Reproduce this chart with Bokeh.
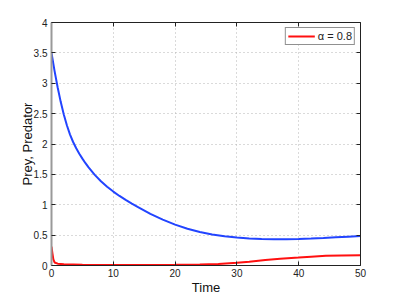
from bokeh.plotting import figure
from bokeh.models import LinearAxis, Range1d, FixedTicker, Legend, LegendItem
from bokeh.embed import file_html
from bokeh.resources import INLINE

# Data
t_prey = [0, 0.5, 1, 1.5, 2, 2.5, 3, 3.5, 4, 4.5, 5, 5.5, 6, 7, 8, 9, 10, 11, 12, 13,
          14, 16, 18, 20, 22, 24, 26, 28, 30, 32, 34, 36, 38, 40, 42, 44, 46, 48, 50]
prey = [3.5, 3.2, 2.93, 2.69, 2.481, 2.304, 2.155, 2.033, 1.93, 1.84, 1.759, 1.684,
        1.614, 1.492, 1.387, 1.297, 1.217, 1.145, 1.079, 1.018, 0.962, 0.85, 0.756,
        0.672, 0.604, 0.552, 0.512, 0.482, 0.46, 0.446, 0.437, 0.433, 0.434, 0.438,
        0.445, 0.454, 0.464, 0.474, 0.484]
t_pred = [0, 0.15, 0.3, 0.5, 1, 2, 5, 10, 15, 20, 24, 27, 30, 32, 34.6, 37, 40, 42,
          44.4, 47, 50]
pred = [0.31, 0.2, 0.1, 0.05, 0.03, 0.02, 0.012, 0.01, 0.01, 0.012, 0.015, 0.025,
        0.045, 0.06, 0.09, 0.11, 0.13, 0.145, 0.16, 0.165, 0.17]

x_ticks = [0, 10, 20, 30, 40, 50]
y_ticks = [0, 0.5, 1, 1.5, 2, 2.5, 3, 3.5, 4]
y_tick_labels = ["0", "0.5", "1", "1.5", "2", "2.5", "3", "3.5", "4"]
legend_label = "α = 0.8"

FONT = "Liberation Sans"

p = figure(frame_width=309, frame_height=243, output_backend="svg",
           toolbar_location=None, x_range=Range1d(0, 50), y_range=Range1d(0, 4),
           min_border_left=51, min_border_right=30, min_border_top=22,
           min_border_bottom=26)
p.outline_line_color = None
p.background_fill_color = "white"

# grid
for g in (p.xgrid, p.ygrid):
    g.grid_line_color = "#b4b4b4"
    g.grid_line_dash = "1 3"
    g.grid_line_width = 1
p.xgrid.ticker = FixedTicker(ticks=x_ticks)
p.ygrid.ticker = FixedTicker(ticks=y_ticks)

def style_axis(ax, ticks):
    ax.ticker = FixedTicker(ticks=ticks)
    ax.major_tick_in = 4
    ax.major_tick_out = 0
    ax.minor_tick_in = 0
    ax.minor_tick_out = 0
    ax.axis_line_color = "#222222"
    ax.major_tick_line_color = "#222222"
    ax.major_label_text_font = FONT
    ax.major_label_text_font_size = "10px"
    ax.major_label_text_color = "#222222"
    ax.axis_label_text_font = FONT
    ax.axis_label_text_font_size = "13px"
    ax.axis_label_text_font_style = "normal"
    ax.axis_label_text_color = "#111111"

xa = p.xaxis[0]
style_axis(xa, x_ticks)
xa.axis_label = "Time"
xa.major_label_standoff = 3
xa.axis_label_standoff = 0

ya = p.yaxis[0]
style_axis(ya, y_ticks)
ya.axis_label = "Prey, Predator"
ya.major_label_overrides = {v: s for v, s in zip(y_ticks, y_tick_labels)}
ya.major_label_standoff = 4
ya.axis_label_standoff = -4
ya.axis_line_color = "#999999"
ya.axis_line_width = 2

top = LinearAxis()
style_axis(top, x_ticks)
top.major_label_overrides = {v: "" for v in x_ticks}
top.major_label_standoff = 0
p.add_layout(top, "above")

right = LinearAxis()
style_axis(right, y_ticks)
right.major_label_overrides = {v: "" for v in y_ticks}
right.major_label_standoff = 0
p.add_layout(right, "right")

p.line(t_prey, prey, line_color="#2244ff", line_width=2)
r_pred = p.line(t_pred, pred, line_color="#ff1010", line_width=2)

legend = Legend(items=[LegendItem(label=legend_label, renderers=[r_pred])],
                location="top_right")
legend.border_line_color = "#222222"
legend.border_line_width = 1
legend.background_fill_color = "white"
legend.background_fill_alpha = 1
legend.label_text_font = FONT
legend.label_text_font_size = "11px"
legend.label_text_color = "#222222"
legend.glyph_width = 27
legend.glyph_height = 12
legend.label_height = 12
legend.padding = 2
legend.spacing = 0
legend.margin = 5
legend.label_standoff = 3
p.add_layout(legend)

open("out.html", "w").write(file_html(p, INLINE))
